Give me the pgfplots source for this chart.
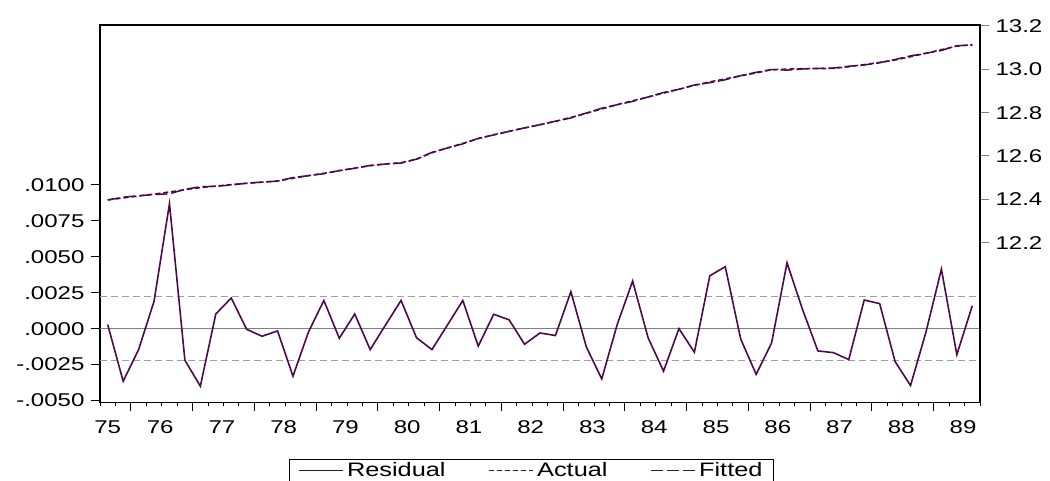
\documentclass[border=0pt]{standalone}
\usepackage{fontspec}
\setmainfont{Liberation Sans}[FakeStretch=1.3]
\usepackage{pgfplots}
\usepackage{pgfplotstable}
\pgfplotsset{compat=1.18}
\definecolor{ev}{HTML}{4B0A4B}
\definecolor{evgray}{HTML}{808080}
\definecolor{evband}{HTML}{A0A0A0}

% quarterly 1975Q1-1989Q1: residual, actual, fitted
\pgfplotstableread{
k  res      act     fit
0  0.00028  12.397  12.3967
1  -0.00366 12.406  12.4097
2  -0.00146 12.415  12.4165
3  0.00190  12.424  12.4221
4  0.00869  12.434  12.4253
5  -0.00220 12.444  12.4462
6  -0.00401 12.454  12.4580
7  0.00102  12.461  12.4600
8  0.00213  12.468  12.4659
9  -0.00005 12.474  12.4741
10 -0.00053 12.479  12.4795
11 -0.00016 12.484  12.4842
12 -0.00331 12.497  12.5003
13 -0.00024 12.509  12.5092
14 0.00196  12.520  12.5180
15 -0.00067 12.532  12.5327
16 0.00102  12.544  12.5430
17 -0.00146 12.555  12.5565
18 0.00026  12.563  12.5627
19 0.00196  12.569  12.5670
20 -0.00063 12.585  12.5856
21 -0.00146 12.615  12.6165
22 0.00024  12.637  12.6368
23 0.00196  12.658  12.6560
24 -0.00122 12.680  12.6812
25 0.00100  12.698  12.6970
26 0.00061  12.714  12.7134
27 -0.00109 12.729  12.7301
28 -0.00030 12.744  12.7443
29 -0.00048 12.760  12.7605
30 0.00257  12.778  12.7754
31 -0.00127 12.797  12.7983
32 -0.00350 12.817  12.8205
33 0.00028  12.837  12.8367
34 0.00331  12.855  12.8517
35 -0.00063 12.872  12.8726
36 -0.00296 12.890  12.8930
37 0.00000  12.908  12.9080
38 -0.00164 12.926  12.9276
39 0.00368  12.942  12.9383
40 0.00431  12.956  12.9517
41 -0.00072 12.970  12.9707
42 -0.00318 12.983  12.9862
43 -0.00100 12.998  12.9990
44 0.00458  13.001  12.9964
45 0.00135  13.003  13.0017
46 -0.00155 13.003  13.0046
47 -0.00167 13.004  13.0057
48 -0.00215 13.012  13.0142
49 0.00199  13.022  13.0200
50 0.00174  13.032  13.0303
51 -0.00229 13.043  13.0453
52 -0.00396 13.058  13.0620
53 -0.00024 13.074  13.0742
54 0.00414  13.091  13.0869
55 -0.00181 13.107  13.1088
56 0.00159  13.114  13.1124
}\resid

\pgfplotsset{
  evbase/.style={
    scale only axis, width=880pt, height=377.5pt,
    at={(100pt,78.5pt)}, anchor=south west,
    xmin=-0.5, xmax=56.5,
    tick align=outside,
    major tick length=9pt, minor tick length=3.5pt,
    scaled y ticks=false,
    every tick label/.append style={font=\fontsize{18.5}{22}\selectfont},
    /pgf/number format/assume math mode=true,
  },
}

\begin{document}
\begin{tikzpicture}[x=1pt,y=1pt]
\useasboundingbox (0,0) rectangle (1050,481);

% left axis: residual
\begin{axis}[evbase,
  axis line style={black, line width=1.2pt},
  tick style={black, line width=1pt},
  tick pos=left,
  ymin=-0.00514, ymax=0.02113,
  ytick={-0.005,-0.0025,0,0.0025,0.005,0.0075,0.01},
  yticklabels={-.0050,-.0025,.0000,.0025,.0050,.0075,.0100},
  yticklabel style={xshift=-3pt},
  xtick={1.5,5.5,...,53.5}, xticklabels={},
  minor xtick={-0.5,0.5,...,56.5},
  extra x ticks={0,3.4,7.4,11.4,15.4,19.4,23.4,27.4,31.4,35.4,39.4,43.4,47.4,51.4,55.4},
  extra x tick labels={75,76,77,78,79,80,81,82,83,84,85,86,87,88,89},
  extra x tick style={major tick length=0pt, xticklabel style={yshift=-15pt}},
]
\addplot[evgray, line width=1.6pt] coordinates {(-0.5,0) (56.5,0)};
\addplot[evband, line width=1pt, dash pattern=on 7pt off 4pt] coordinates {(-0.5,0.00224) (56.5,0.00224)};
\addplot[evband, line width=1pt, dash pattern=on 7pt off 4pt] coordinates {(-0.5,-0.00224) (56.5,-0.00224)};
\addplot[ev, line width=1.6pt] table[x=k, y=res] {\resid};
\end{axis}

% right axis: actual and fitted
\begin{axis}[evbase,
  axis x line=none, axis y line*=right,
  y axis line style={-, black, line width=1.2pt},
  ytick style={evgray, line width=1pt},
  ymin=11.462, ymax=13.2046,
  ytick={12.2,12.4,12.6,12.8,13.0,13.2},
  yticklabels={12.2,12.4,12.6,12.8,13.0,13.2},
  yticklabel style={xshift=3pt},
  legend columns=3,
  legend image code/.code={\draw[#1] (0pt,0pt) -- (44pt,0pt);},
  legend style={at={(0.4903,-0.15)}, anchor=north, draw=black, line width=1pt,
    fill=white, font=\fontsize{19.5}{23}\selectfont,
    inner xsep=8pt, inner ysep=0.5pt,
    nodes={inner sep=2.5pt},
    /tikz/every odd column/.append style={column sep=1pt},
    /tikz/every even column/.append style={column sep=40pt}},
]
\addlegendimage{ev, line width=1.6pt}
\addlegendentry{Residual}
\addplot[ev, line width=1.5pt, dash pattern=on 5pt off 3pt] table[x=k, y=act] {\resid};
\addlegendentry{Actual}
\addplot[ev, line width=1.5pt, dash pattern=on 12pt off 4pt] table[x=k, y=fit] {\resid};
\addlegendentry{Fitted}
\end{axis}
\end{tikzpicture}
\end{document}
